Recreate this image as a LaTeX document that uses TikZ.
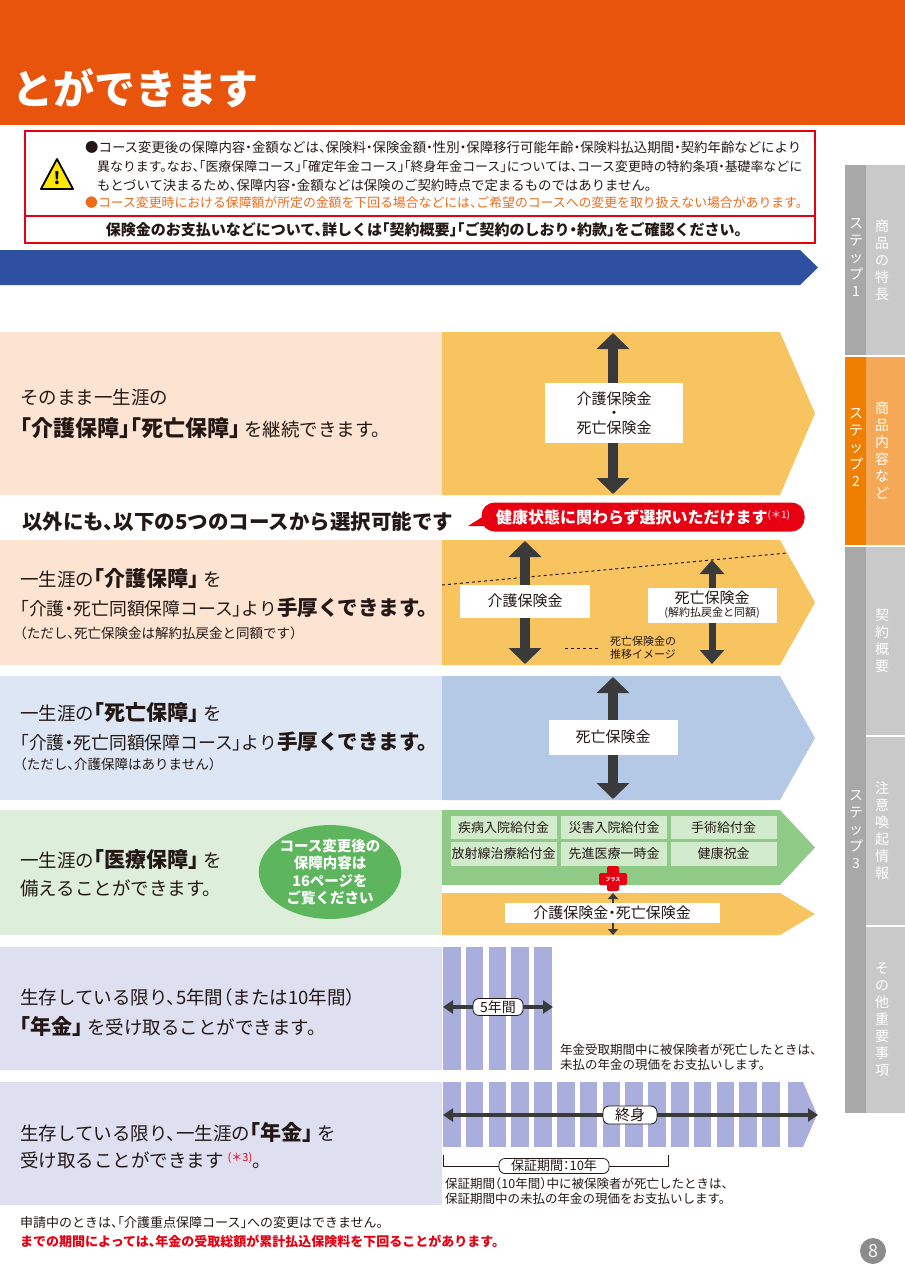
\documentclass[tikz,border=0pt]{standalone}
\usepackage{fontspec}
\setmainfont{Noto Sans CJK JP}[RawFeature=+halt]
\usetikzlibrary{arrows.meta,shapes.geometric}
\definecolor{hdr}{HTML}{E9540D}
\definecolor{ink}{HTML}{231815}
\definecolor{wred}{HTML}{E60012}
\definecolor{worange}{HTML}{EC6A1C}
\definecolor{bband}{HTML}{2F50A1}
\definecolor{peach}{HTML}{FDE4D2}
\definecolor{goldband}{HTML}{F8C460}
\definecolor{lblue}{HTML}{DCE6F4}
\definecolor{blueband}{HTML}{B4C9E6}
\definecolor{lgreen}{HTML}{DDEFDA}
\definecolor{greenband}{HTML}{8FCB86}
\definecolor{gcell}{HTML}{D3EBCD}
\definecolor{ovalg}{HTML}{5DB55E}
\definecolor{lav}{HTML}{DEDFF1}
\definecolor{lavbar}{HTML}{A9AEDC}
\definecolor{arr}{HTML}{3A3A3A}
\definecolor{tabd}{HTML}{A8A8A8}
\definecolor{tabl}{HTML}{C9C9C9}
\definecolor{tabo}{HTML}{EE7F00}
\definecolor{tabol}{HTML}{F5A956}
\definecolor{pgnum}{HTML}{8C8C8C}
\newcommand{\fsz}[1]{\fontsize{#1}{#1}\selectfont}
\newcommand{\kw}[1]{{\bfseries\fsz{21}#1}}
\tikzset{
  lt/.style={anchor=west, text=ink, font=\fsz{18.5}, inner sep=0pt},
  ltn/.style={anchor=west, text=ink, font=\fsz{17.8}, inner sep=0pt},
  wt/.style={anchor=west, text=ink, font=\fsz{13.4}, inner sep=0pt},
  tate/.style={text=white, font=\fontsize{14}{17}\selectfont, align=center, inner sep=0pt},
  wbox/.style={fill=white, text=ink, font=\fsz{15}, inner sep=0pt, align=center},
  cell/.style={fill=gcell, text=ink, font=\fsz{13}, inner sep=0pt, minimum width=106pt, minimum height=23.5pt},
  pill/.style={draw=ink, fill=white, text=ink, line width=0.8pt, rounded corners=6pt, inner sep=2pt},
  note/.style={anchor=west, text=ink, font=\fontsize{12.5}{15}\selectfont, align=left, inner sep=0pt},
  vdar/.style={draw=arr, line width=10pt, {Triangle[width=32pt,length=16pt]}-{Triangle[width=32pt,length=16pt]}},
  vdars/.style={draw=arr, line width=7pt, {Triangle[width=24pt,length=14pt]}-{Triangle[width=24pt,length=14pt]}},
  vdart/.style={draw=arr, line width=2.5pt, {Triangle[width=10pt,length=6pt]}-{Triangle[width=10pt,length=6pt]}},
  hdar/.style={draw=arr, line width=3.5pt, {Triangle[width=13pt,length=10pt]}-{Triangle[width=13pt,length=10pt]}},
}
\begin{document}
\begin{tikzpicture}[x=1pt,y=-1pt]
\useasboundingbox (0,0) rectangle (905,1280);

% header
\fill[hdr] (0,0) rectangle (905,125);
\node[anchor=west, text=white, font=\bfseries\fsz{41}, inner sep=0pt] (title) at (12,88) {とができます};

% warning box
\draw[wred, line width=1.2pt] (25,131) rectangle (815,243);
\draw[wred, line width=1.2pt] (25,216) -- (815,216);
\fill[yellow!90!orange, draw=black, line width=1.8pt, line join=round] (57,159) -- (73,189) -- (41,189) -- cycle;
\node[font=\bfseries\fsz{17}, inner sep=0pt] (warn) at (57,178) {!};
\node[wt] (w1) at (85,147) {●コース変更後の保障内容・金額などは、保険料・保険金額・性別・保障移行可能年齢・保険料払込期間・契約年齢などにより};
\node[wt, font=\fsz{12.9}] (w2) at (97,167) {異なります。なお、「医療保障コース」「確定年金コース」「終身年金コース」については、コース変更時の特約条項・基礎率などに};
\node[wt] (w3) at (97,185) {もとづいて決まるため、保障内容・金額などは保険のご契約時点で定まるものではありません。};
\node[wt, font=\fsz{12.85}, text=worange] (w4) at (85,203) {●コース変更時における保障額が所定の金額を下回る場合などには、ご希望のコースへの変更を取り扱えない場合があります。};
\node[text=ink, font=\bfseries\fsz{15}, inner sep=0pt] (w5) at (424,230) {保険金のお支払いなどについて、詳しくは「契約概要」「ご契約のしおり・約款」をご確認ください。};

% blue band
\fill[bband] (0,250) -- (800,250) -- (818,267.5) -- (800,285) -- (0,285) -- cycle;

% side tabs
\fill[tabd] (845,165) rectangle (866,355);
\fill[tabl] (866,165) rectangle (905,355);
\fill[tabo] (845,357) rectangle (866,545);
\fill[tabol] (866,357) rectangle (905,545);
\fill[tabd] (845,547) rectangle (866,1113);
\fill[tabl] (866,547) rectangle (905,735);
\fill[tabl] (866,737) rectangle (905,925);
\fill[tabl] (866,927) rectangle (905,1113);
\node[tate] (s1) at (856,258) {ス\\テ\\ッ\\プ\\1};
\node[tate] (s1t) at (882,260) {商\\品\\の\\特\\長};
\node[tate] (s2) at (856,448) {ス\\テ\\ッ\\プ\\2};
\node[tate] (s2t) at (882,450) {商\\品\\内\\容\\な\\ど};
\node[tate] (s3) at (856,830) {ス\\テ\\ッ\\プ\\3};
\node[tate] (s3a) at (882,641) {契\\約\\概\\要};
\node[tate] (s3b) at (882,831) {注\\意\\喚\\起\\情\\報};
\node[tate] (s3c) at (882,1020) {そ\\の\\他\\重\\要\\事\\項};

% row 1
\fill[peach] (0,332) rectangle (442,495);
\fill[goldband] (442,332) -- (780,332) -- (815,413.5) -- (780,495) -- (442,495) -- cycle;
\coordinate (r1top) at (613,333);
\coordinate (r1bot) at (613,494);
\draw[vdar] (r1top) -- (r1bot);
\node[wbox, minimum width=138pt, minimum height=60pt, font=\fontsize{15}{14.5}\selectfont] (b1) at (614,413) {介護保険金\\・\\死亡保険金};
\node[lt] (t1a) at (20,397) {そのまま一生涯の};
\node[lt] (t1b) at (20,428) {{\bfseries\fsz{22}「介護保障」「死亡保障」}\hspace{4pt}を継続できます。};

% heading and callout
\node[anchor=west, text=ink, font=\bfseries\fsz{20.5}, inner sep=0pt] (mid) at (22,522) {以外にも、以下の5つのコースから選択可能です};
\fill[wred] (492,511) -- (468,526) -- (498,526) -- cycle;
\node[fill=wred, text=white, rounded corners=13pt, minimum width=323pt, minimum height=29pt, inner sep=0pt] (call) at (643,517)
  {{\bfseries\fsz{16}健康状態に関わらず選択いただけます}\raisebox{5pt}{\fsz{10}(＊1)}};

% row 2
\fill[peach] (0,540) rectangle (442,665);
\fill[goldband] (442,540) -- (780,540) -- (815,602.5) -- (780,665) -- (442,665) -- cycle;
\coordinate (d1) at (442,585);
\coordinate (d2) at (787,553);
\draw[ink, dashed, line width=1pt] (d1) -- (d2);
\coordinate (r2atop) at (525,541);
\coordinate (r2abot) at (525,664);
\draw[vdar] (r2atop) -- (r2abot);
\coordinate (r2btop) at (712,560);
\coordinate (r2bbot) at (712,664);
\draw[vdars] (r2btop) -- (r2bbot);
\node[wbox, minimum width=130pt, minimum height=33pt] (b2a) at (525,601) {介護保険金};
\node[wbox, minimum width=129pt, minimum height=35pt, font=\fontsize{15}{13}\selectfont] (b2b) at (712,605) {死亡保険金\\{\fsz{11}(解約払戻金と同額)}};
\coordinate (lg1) at (565,648);
\coordinate (lg2) at (598,648);
\draw[ink, dashed, line width=1pt] (lg1) -- (lg2);
\node[anchor=west, text=ink, font=\fontsize{11}{13}\selectfont, align=left, inner sep=0pt] (lg) at (610,648) {死亡保険金の\\推移イメージ};
\node[lt] (t2a) at (20,578) {一生涯の\kw{「介護保障」}\hspace{4pt}を};
\node[ltn] (t2b) at (20,608) {「介護・死亡同額保障コース」より{\bfseries\fsz{20.5}手厚くできます。}};
\node[lt, font=\fsz{13.5}] (t2c) at (20,633) {（ただし、死亡保険金は解約払戻金と同額です）};

% row 3
\fill[lblue] (0,676) rectangle (442,800);
\fill[blueband] (442,676) -- (780,676) -- (815,738) -- (780,800) -- (442,800) -- cycle;
\coordinate (r3top) at (613,677);
\coordinate (r3bot) at (613,799);
\draw[vdar] (r3top) -- (r3bot);
\node[wbox, minimum width=129pt, minimum height=35pt] (b3) at (613,737) {死亡保険金};
\node[lt] (t3a) at (20,713) {一生涯の\kw{「死亡保障」}\hspace{4pt}を};
\node[ltn] (t3b) at (20,742) {「介護・死亡同額保障コース」より{\bfseries\fsz{20.5}手厚くできます。}};
\node[lt, font=\fsz{13.5}] (t3c) at (20,764) {（ただし、介護保障はありません）};

% row 4
\fill[lgreen] (0,810) rectangle (442,935);
\fill[greenband] (442,810) -- (780,810) -- (815,847.5) -- (780,885) -- (442,885) -- cycle;
\fill[goldband] (442,893) -- (780,893) -- (815,914) -- (780,935) -- (442,935) -- cycle;
\foreach \cx/\cy/\ct [count=\k] in {503.5/827.5/疾病入院給付金, 614/827.5/災害入院給付金, 723.5/827.5/手術給付金,
    503.5/854/放射線治療給付金, 614/854/先進医療一時金, 723.5/854/健康祝金}{
  \node[cell] (c\k) at (\cx,\cy) {\ct};
}
\coordinate (r4top) at (613,893);
\coordinate (r4bot) at (613,935);
\draw[vdart] (r4top) -- (r4bot);
\node[wbox, minimum width=215pt, minimum height=20pt] (b4) at (612,913) {介護保険金・死亡保険金};
\fill[wred, rounded corners=1.5pt] (607,866) rectangle (619,891);
\fill[wred, rounded corners=1.5pt] (599,873) rectangle (627,885);
\node[text=white, font=\bfseries\fsz{5}, inner sep=0pt] (plus) at (613,879) {プラス};
\node[ellipse, fill=ovalg, text=white, minimum width=136pt, minimum height=92pt, inner sep=0pt, align=center,
  font=\bfseries\fontsize{14.5}{17.5}\selectfont] (oval) at (330,872) {コース変更後の\\保障内容は\\16ページを\\ご覧ください};
\node[lt] (t4a) at (20,860) {一生涯の\kw{「医療保障」}\hspace{4pt}を};
\node[lt] (t4b) at (20,888) {備えることができます。};

% row 5
\fill[lav] (0,947) rectangle (442,1070);
\foreach \i in {0,...,4}
  \fill[lavbar] ({443+\i*22.8},947) rectangle ++(17.5,123);
\coordinate (r5l) at (443,1007);
\coordinate (r5r) at (553,1007);
\draw[hdar] (r5l) -- (r5r);
\node[pill, font=\fsz{14}, minimum width=50pt] (y5) at (498,1007) {5年間};
\node[note] (n5) at (560,1057) {年金受取期間中に被保険者が死亡したときは、\\未払の年金の現価をお支払いします。};
\node[lt] (t5a) at (20,997) {生存している限り、5年間（または10年間）};
\node[lt] (t5b) at (20,1026) {\kw{「年金」}\hspace{4pt}を受け取ることができます。};

% row 6
\fill[lav] (0,1082) rectangle (442,1205);
\foreach \i in {0,...,14}
  \fill[lavbar] ({443+\i*22.8},1082) rectangle ++(17.5,65);
\fill[lavbar] (788,1082) -- (803,1082) -- (817,1114.5) -- (803,1147) -- (788,1147) -- cycle;
\coordinate (r6l) at (443,1115);
\coordinate (r6r) at (818,1115);
\draw[hdar] (r6l) -- (r6r);
\node[pill, font=\fsz{15}, minimum width=54pt] (life) at (630,1115) {終身};
\coordinate (g1) at (443,1155);
\coordinate (g2) at (668,1155);
\draw[ink, line width=0.8pt] (g1) |- (668,1166) -- (g2);
\node[pill, font=\fsz{13}, minimum width=110pt, inner sep=1.5pt] (guar) at (554,1166) {保証期間：10年};
\node[note, anchor=west] (n6) at (445,1191) {保証期間（10年間）中に被保険者が死亡したときは、\\保証期間中の未払の年金の現価をお支払いします。};
\node[lt] (t6a) at (20,1132) {生存している限り、一生涯の\kw{「年金」}\hspace{4pt}を};
\node[lt] (t6b) at (20,1160) {受け取ることができます\hspace{4pt}\raisebox{6pt}{\textcolor{wred}{\fsz{11}(＊3)}}。};

% footnotes
\node[anchor=west, text=ink, font=\fsz{13}, inner sep=0pt] (f1) at (20,1223) {申請中のときは、「介護重点保障コース」への変更はできません。};
\node[anchor=west, text=wred, font=\bfseries\fsz{13}, inner sep=0pt] (f2) at (20,1241) {までの期間によっては、年金の受取総額が累計払込保険料を下回ることがあります。};
\node[circle, fill=pgnum, text=white, minimum size=26pt, inner sep=0pt, font=\fsz{18}] (page) at (873,1251) {8};
\end{tikzpicture}
\end{document}
